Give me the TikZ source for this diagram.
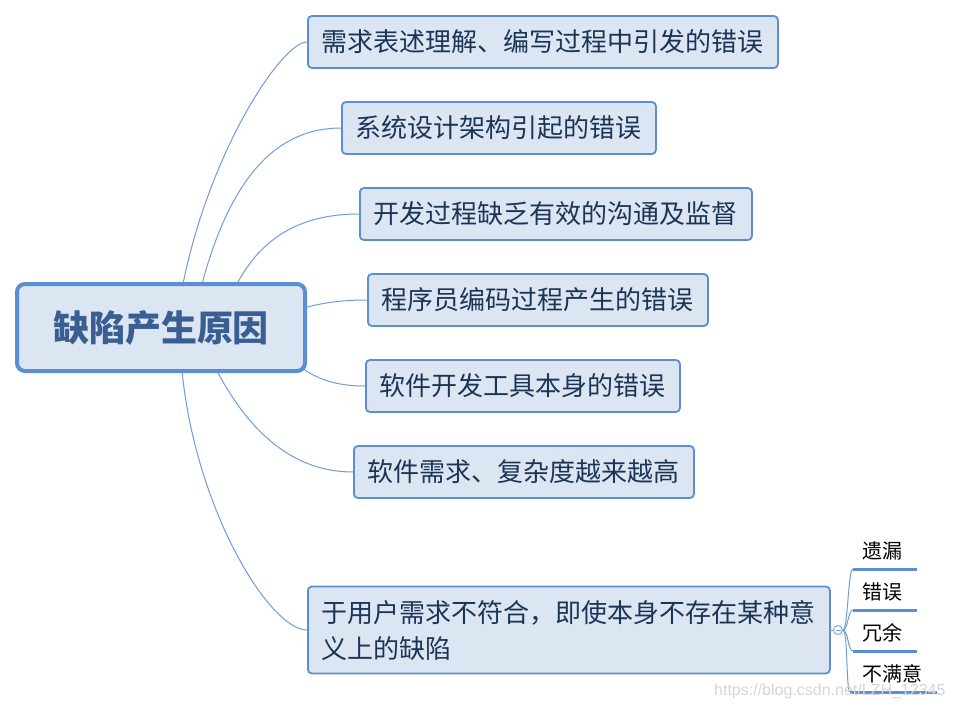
\documentclass[tikz,border=0pt]{standalone}
\usepackage{fontspec}
\usetikzlibrary{backgrounds}
\newfontfamily\cjk{Noto Sans CJK SC}
\newfontfamily\wmfont{Liberation Sans}
\definecolor{boxfill}{HTML}{DCE6F2}
\definecolor{boxline}{HTML}{5A8FD5}
\definecolor{conline}{HTML}{6E9DDA}
\definecolor{txtnavy}{HTML}{1C3557}
\definecolor{roottxt}{HTML}{3A5E92}
\definecolor{wmgray}{HTML}{D6D6D6}
\begin{document}
\begin{tikzpicture}[x=1pt,y=-1pt,
  rootbox/.style={draw=boxline, fill=boxfill, line width=4pt, rounded corners=8pt,
    minimum width=288pt, minimum height=87pt, inner sep=0pt,
    font=\cjk\bfseries\fontsize{36}{40}\selectfont, text=roottxt},
  childbox/.style={draw=boxline, fill=boxfill, line width=1.8pt, rounded corners=4pt,
    minimum height=52pt, inner xsep=14pt, inner ysep=0pt, anchor=west,
    font=\cjk\fontsize{26}{36}\selectfont, text=txtnavy},
  conn/.style={draw=conline, line width=1pt},
  leaf/.style={anchor=west, inner sep=0pt, font=\cjk\fontsize{20}{24}\selectfont, text=black},
  uline/.style={draw=boxline, line width=3pt},
]
\useasboundingbox (0,0) rectangle (954,709);

\node[rootbox] (root) at (161,327.5) {缺陷产生原因};

\node[childbox] (b1) at (307,42) {需求表述理解、编写过程中引发的错误};
\node[childbox] (b2) at (341,128) {系统设计架构引起的错误};
\node[childbox] (b3) at (359,214) {开发过程缺乏有效的沟通及监督};
\node[childbox] (b4) at (367,300) {程序员编码过程产生的错误};
\node[childbox] (b5) at (365,386) {软件开发工具本身的错误};
\node[childbox] (b6) at (353,472) {软件需求、复杂度越来越高};
\node[childbox, minimum height=87pt, align=left] (b7) at (307,630) {于用户需求不符合，即使本身不存在某种意\\义上的缺陷};

% start points of connectors on the root border
\coordinate (s1) at (183,284);
\coordinate (s2) at (202,284);
\coordinate (s3) at (237,284);
\coordinate (s4) at (304,308);
\coordinate (s5) at (302,368);
\coordinate (s6) at (217,371);
\coordinate (s7) at (182,371);

\begin{pgfonlayer}{background}
\fill[white] (0,0) rectangle (954,709);
\path[conn] (s1) .. controls (210,150) and (282,42) .. (b1.west);
\path[conn] (s2) .. controls (232,172) and (280,128) .. (b2.west);
\path[conn] (s3) .. controls (260,240) and (298,214) .. (b3.west);
\path[conn] (s4) .. controls (325,302) and (345,300) .. (b4.west);
\path[conn] (s5) .. controls (320,381) and (340,386) .. (b5.west);
\path[conn] (s6) .. controls (252,437) and (297,472) .. (b6.west);
\path[conn] (s7) .. controls (196,511) and (270,630) .. (b7.west);
\end{pgfonlayer}

% collapse circle and sub-branches
\coordinate (u1s) at (853,569); \coordinate (u1e) at (917,569);
\coordinate (u2s) at (853,610); \coordinate (u2e) at (917,610);
\coordinate (u3s) at (853,651); \coordinate (u3e) at (917,651);
\coordinate (u4s) at (850,692); \coordinate (u4e) at (937,692);

\node[circle, draw=conline, fill=white, line width=0.8pt, minimum size=9pt, inner sep=0pt] (col) at (838,630) {};
\path[conn] (b7.east) -- (col.west);
\path[conn] (col.east) .. controls (848,630) and (848,569) .. (u1s);
\path[conn] (col.east) .. controls (848,630) and (848,610) .. (u2s);
\path[conn] (col.east) .. controls (848,630) and (848,651) .. (u3s);
\path[conn] (col.east) .. controls (848,630) and (846,692) .. (u4s);
\draw[conline, line width=0.8pt] ([xshift=-2.5pt]col.center) -- ([xshift=2.5pt]col.center);

\path[uline] (u1s) -- (u1e);
\path[uline] (u2s) -- (u2e);
\path[uline] (u3s) -- (u3e);
\path[uline] (u4s) -- (u4e);

\node[leaf] (l1) at (862,551) {遗漏};
\node[leaf] (l2) at (862,592) {错误};
\node[leaf] (l3) at (862,633) {冗余};
\node[leaf] (l4) at (862,674) {不满意};

\node[anchor=west, inner sep=0pt, font=\wmfont\fontsize{16}{18}\selectfont, text=wmgray] (wm) at (714,691) {https://blog.csdn.net/LZH\_12345};
\end{tikzpicture}
\end{document}
